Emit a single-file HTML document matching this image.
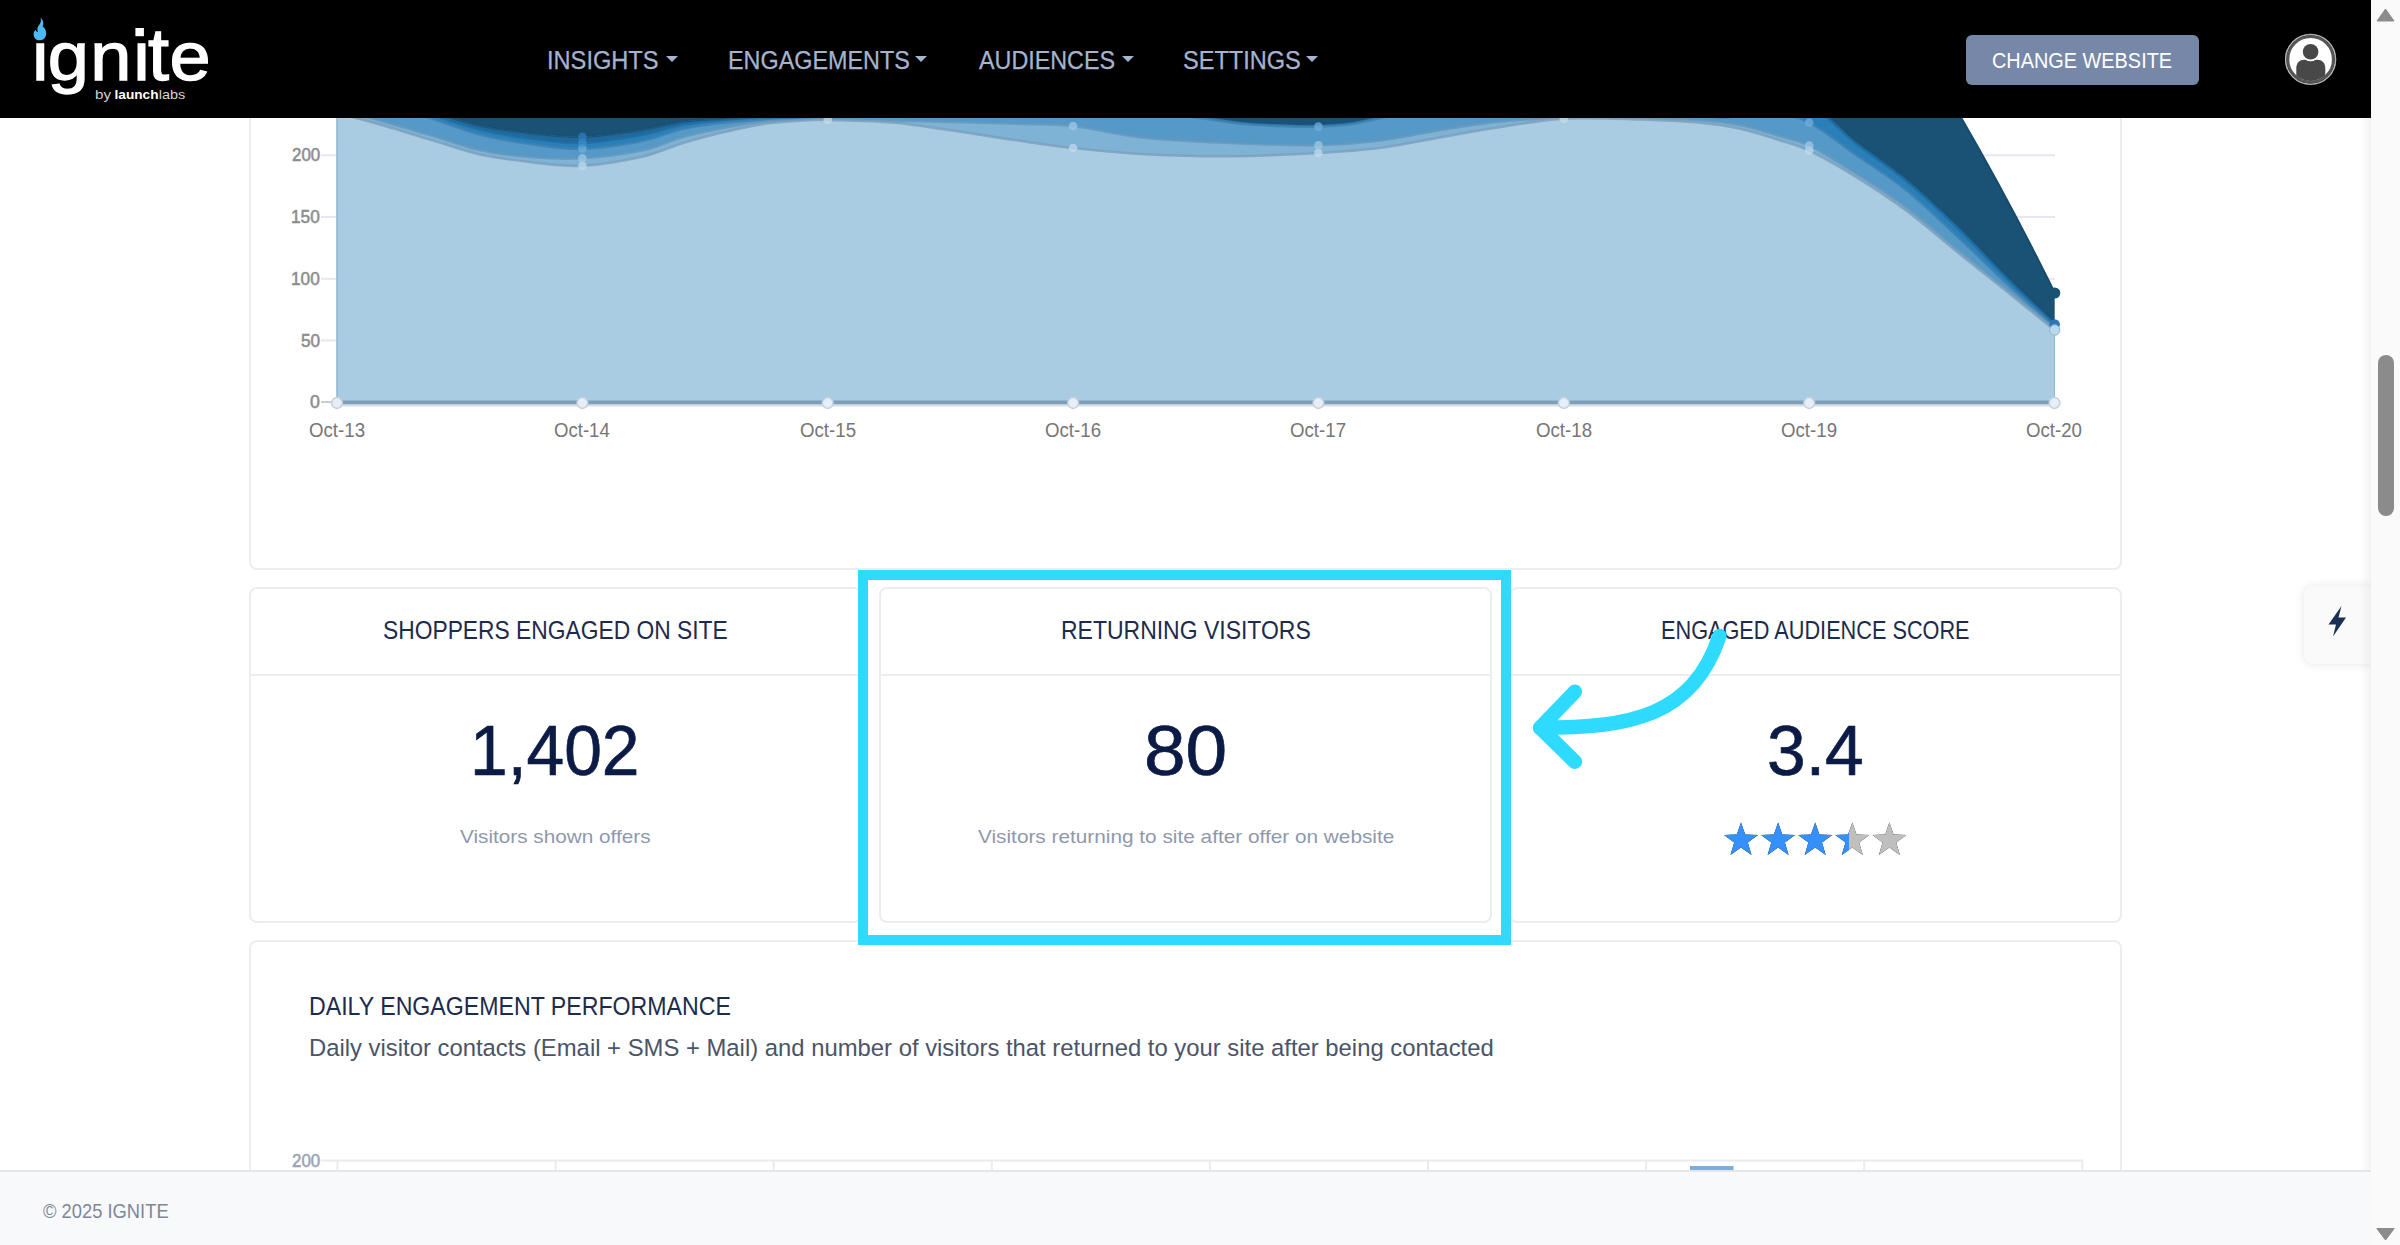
<!DOCTYPE html>
<html lang="en">
<head>
<meta charset="utf-8">
<title>Ignite - Insights</title>
<style>
*{box-sizing:border-box}
html,body{margin:0;padding:0}
body{width:2400px;height:1245px;overflow:hidden;position:relative;background:#fff;font-family:"Liberation Sans",sans-serif}
.page{position:absolute;left:0;top:0;width:2371px;height:1245px;overflow:hidden;background:#fff}
.t{position:absolute;white-space:pre;line-height:1;transform-origin:0 0;display:block;font-family:"Liberation Sans",sans-serif}
.card{position:absolute;background:#fff;border:2px solid #ecedf0;border-radius:8px}
.card .hd{position:absolute;left:0;right:0;top:0;height:87px;border-bottom:2px solid #ecedf0}
header{position:absolute;left:0;top:0;width:2371px;height:117.5px;background:#000}
.caret{position:absolute;top:56px;width:0;height:0;border-left:6px solid transparent;border-right:6px solid transparent;border-top:6.5px solid #a7b4d0}
.btn{position:absolute;left:1966px;top:35px;width:233px;height:50px;border-radius:6px;background:#7787a8}
footer{position:absolute;left:0;top:1170px;width:2371px;height:75px;background:#f8f9fb;border-top:2px solid #e4e6ea}
.tab{position:absolute;left:2304px;top:586px;width:70px;height:78px;background:#fafafa;border-radius:9px 0 0 9px;box-shadow:0 0 10px rgba(0,0,0,.10)}
.hl{position:absolute;left:858px;top:570px;width:653px;height:375px;border:10px solid #2fd9ff;background:#fff}
.sb{position:absolute;left:2371px;top:0;width:29px;height:1245px;background:#fafafa}
.sb .th{position:absolute;left:6.5px;top:355px;width:16px;height:161px;border-radius:8px;background:#8b8b8b}
.shade{position:absolute;left:2359px;top:117.5px;width:12px;height:1128px;background:linear-gradient(to right,rgba(0,0,0,0),rgba(0,0,0,.045))}
svg{position:absolute;left:0;top:0;overflow:visible}
</style>
</head>
<body>
<div class="page">

  <!-- top chart card (scrolled, its upper part sits under the header) -->
  <section class="card" style="left:249px;top:-60px;width:1873px;height:630px"></section>
  <svg width="2371" height="480" viewBox="0 0 2371 480">
<line x1="321" y1="155.2" x2="2055" y2="155.2" stroke="#e6e6f2" stroke-width="2"/>
<line x1="321" y1="217.0" x2="2055" y2="217.0" stroke="#e6e6f2" stroke-width="2"/>
<line x1="321" y1="278.8" x2="2055" y2="278.8" stroke="#e6e6f2" stroke-width="2"/>
<line x1="321" y1="340.6" x2="2055" y2="340.6" stroke="#e6e6f2" stroke-width="2"/>
<line x1="321" y1="402" x2="337" y2="402" stroke="#c9cdd6" stroke-width="2"/>
<path d="M337,0 L1889,0 L1961,117.5 Q2009.2,200.4 2054.7,292.8 L2054.7,323.2 C2046.8,315.8 2024.8,294.9 2008.5,278.6 C1992.2,262.3 1974.2,242.3 1957.0,225.6 C1939.8,208.9 1922.8,192.6 1905.6,178.3 C1888.4,164.0 1866.6,149.7 1854.0,139.6 C1841.4,129.5 1837.5,123.8 1830.0,117.5 C1822.5,111.2 1819.2,106.1 1809.2,101.5 C1799.2,96.9 1788.2,89.8 1770.0,90.0 C1751.8,90.2 1734.4,101.0 1700.0,103.0 C1665.6,105.0 1607.1,101.7 1563.8,102.0 C1520.5,102.3 1470.8,102.5 1440.0,105.0 C1409.2,107.5 1394.0,114.0 1379.0,117.0 C1364.0,120.0 1360.1,121.5 1350.0,122.9 C1339.9,124.3 1328.2,124.9 1318.4,125.2 C1308.7,125.5 1303.2,125.4 1291.5,125.0 C1279.8,124.6 1262.6,124.2 1248.0,122.9 C1233.4,121.6 1220.3,119.3 1204.0,117.0 C1187.7,114.7 1171.8,112.3 1150.0,109.0 C1128.2,105.7 1114.7,97.0 1073.1,97.0 C1031.4,97.0 940.9,105.7 900.0,109.0 C859.1,112.3 849.9,115.5 827.7,117.0 C805.5,118.5 783.8,118.0 766.7,118.3 C749.6,118.6 739.0,118.5 725.0,119.0 C711.0,119.5 696.9,119.6 683.0,121.4 C669.1,123.2 658.5,127.1 641.7,129.7 C624.9,132.2 601.0,136.1 582.4,136.7 C563.7,137.2 547.1,134.9 530.0,133.0 C512.9,131.1 496.7,129.2 480.0,125.5 C463.3,121.8 446.7,115.9 430.0,111.0 C413.3,106.1 395.5,99.8 380.0,96.0 C364.5,92.2 344.2,89.3 337.0,88.0 Z" fill="#1a5276"/>
<path d="M337.0,88.0 C344.2,89.3 364.5,92.2 380.0,96.0 C395.5,99.8 413.3,106.1 430.0,111.0 C446.7,115.9 463.3,121.8 480.0,125.5 C496.7,129.2 512.9,131.1 530.0,133.0 C547.1,134.9 563.7,137.2 582.4,136.7 C601.0,136.1 624.9,132.2 641.7,129.7 C658.5,127.1 669.1,123.2 683.0,121.4 C696.9,119.6 711.0,119.5 725.0,119.0 C739.0,118.5 749.6,118.6 766.7,118.3 C783.8,118.0 805.5,118.5 827.7,117.0 C849.9,115.5 859.1,112.3 900.0,109.0 C940.9,105.7 1031.4,97.0 1073.1,97.0 C1114.7,97.0 1128.2,105.7 1150.0,109.0 C1171.8,112.3 1187.7,114.7 1204.0,117.0 C1220.3,119.3 1233.4,121.6 1248.0,122.9 C1262.6,124.2 1279.8,124.6 1291.5,125.0 C1303.2,125.4 1308.7,125.5 1318.4,125.2 C1328.2,124.9 1339.9,124.3 1350.0,122.9 C1360.1,121.5 1364.0,120.0 1379.0,117.0 C1394.0,114.0 1409.2,107.5 1440.0,105.0 C1470.8,102.5 1520.5,102.3 1563.8,102.0 C1607.1,101.7 1665.6,105.0 1700.0,103.0 C1734.4,101.0 1751.8,90.2 1770.0,90.0 C1788.2,89.8 1799.2,96.9 1809.2,101.5 C1819.2,106.1 1822.5,111.2 1830.0,117.5 C1837.5,123.8 1841.4,129.5 1854.0,139.6 C1866.6,149.7 1888.4,164.0 1905.6,178.3 C1922.8,192.6 1939.8,208.9 1957.0,225.6 C1974.2,242.3 1992.2,262.3 2008.5,278.6 C2024.8,294.9 2046.8,315.8 2054.5,323.2 L2054.5,402.0 L337.0,402.0 Z" fill="#21689b"/>
<path d="M337.0,88.0 C344.2,89.3 364.5,92.2 380.0,96.0 C395.5,99.8 413.3,106.1 430.0,111.0 C446.7,115.9 463.3,121.8 480.0,125.5 C496.7,129.2 512.9,131.1 530.0,133.0 C547.1,134.9 563.7,137.2 582.4,136.7 C601.0,136.1 624.9,132.2 641.7,129.7 C658.5,127.1 669.1,123.2 683.0,121.4 C696.9,119.6 711.0,119.5 725.0,119.0 C739.0,118.5 749.6,118.6 766.7,118.3 C783.8,118.0 805.5,118.5 827.7,117.0 C849.9,115.5 859.1,112.3 900.0,109.0 C940.9,105.7 1031.4,97.0 1073.1,97.0 C1114.7,97.0 1128.2,105.7 1150.0,109.0 C1171.8,112.3 1187.7,114.7 1204.0,117.0 C1220.3,119.3 1233.4,121.6 1248.0,122.9 C1262.6,124.2 1279.8,124.6 1291.5,125.0 C1303.2,125.4 1308.7,125.5 1318.4,125.2 C1328.2,124.9 1339.9,124.3 1350.0,122.9 C1360.1,121.5 1364.0,120.0 1379.0,117.0 C1394.0,114.0 1409.2,107.5 1440.0,105.0 C1470.8,102.5 1520.5,102.3 1563.8,102.0 C1607.1,101.7 1665.6,105.0 1700.0,103.0 C1734.4,101.0 1751.8,90.2 1770.0,90.0 C1788.2,89.8 1799.2,96.9 1809.2,101.5 C1819.2,106.1 1822.5,111.2 1830.0,117.5 C1837.5,123.8 1841.4,129.5 1854.0,139.6 C1866.6,149.7 1888.4,164.0 1905.6,178.3 C1922.8,192.6 1939.8,208.9 1957.0,225.6 C1974.2,242.3 1992.2,262.3 2008.5,278.6 C2024.8,294.9 2046.8,315.8 2054.5,323.2" fill="none" stroke="#174f76" stroke-opacity=".8" stroke-width="2.6"/>
<path d="M337.0,91.0 C344.2,92.3 364.5,95.2 380.0,99.0 C395.5,102.8 413.3,108.9 430.0,114.0 C446.7,119.1 463.3,125.4 480.0,129.5 C496.7,133.6 512.9,136.2 530.0,138.5 C547.1,140.8 563.7,143.6 582.4,143.0 C601.0,142.4 624.9,138.1 641.7,135.0 C658.5,131.9 669.1,127.0 683.0,124.5 C696.9,122.0 711.0,121.2 725.0,120.3 C739.0,119.4 749.6,119.5 766.7,119.0 C783.8,118.5 805.5,119.1 827.7,117.6 C849.9,116.1 859.1,113.3 900.0,110.0 C940.9,106.7 1031.4,98.0 1073.1,98.0 C1114.7,98.0 1128.2,106.7 1150.0,110.0 C1171.8,113.3 1187.7,115.5 1204.0,117.8 C1220.3,120.1 1233.4,122.3 1248.0,123.6 C1262.6,124.9 1279.8,125.3 1291.5,125.7 C1303.2,126.1 1308.7,126.2 1318.4,125.9 C1328.2,125.6 1339.9,124.9 1350.0,123.6 C1360.1,122.2 1364.0,120.7 1379.0,117.8 C1394.0,114.9 1409.2,108.5 1440.0,106.0 C1470.8,103.5 1520.5,103.3 1563.8,103.0 C1607.1,102.7 1665.6,105.8 1700.0,104.0 C1734.4,102.2 1751.8,92.0 1770.0,92.0 C1788.2,92.0 1799.2,99.3 1809.2,104.0 C1819.2,108.7 1822.5,113.7 1830.0,120.0 C1837.5,126.3 1841.4,131.9 1854.0,142.0 C1866.6,152.1 1888.4,166.2 1905.6,180.5 C1922.8,194.8 1939.8,210.9 1957.0,227.5 C1974.2,244.1 1992.2,263.9 2008.5,280.0 C2024.8,296.1 2046.8,316.7 2054.5,324.0 L2054.5,402.0 L337.0,402.0 Z" fill="#2980b9"/>
<path d="M337.0,91.0 C344.2,92.3 364.5,95.2 380.0,99.0 C395.5,102.8 413.3,108.9 430.0,114.0 C446.7,119.1 463.3,125.4 480.0,129.5 C496.7,133.6 512.9,136.2 530.0,138.5 C547.1,140.8 563.7,143.6 582.4,143.0 C601.0,142.4 624.9,138.1 641.7,135.0 C658.5,131.9 669.1,127.0 683.0,124.5 C696.9,122.0 711.0,121.2 725.0,120.3 C739.0,119.4 749.6,119.5 766.7,119.0 C783.8,118.5 805.5,119.1 827.7,117.6 C849.9,116.1 859.1,113.3 900.0,110.0 C940.9,106.7 1031.4,98.0 1073.1,98.0 C1114.7,98.0 1128.2,106.7 1150.0,110.0 C1171.8,113.3 1187.7,115.5 1204.0,117.8 C1220.3,120.1 1233.4,122.3 1248.0,123.6 C1262.6,124.9 1279.8,125.3 1291.5,125.7 C1303.2,126.1 1308.7,126.2 1318.4,125.9 C1328.2,125.6 1339.9,124.9 1350.0,123.6 C1360.1,122.2 1364.0,120.7 1379.0,117.8 C1394.0,114.9 1409.2,108.5 1440.0,106.0 C1470.8,103.5 1520.5,103.3 1563.8,103.0 C1607.1,102.7 1665.6,105.8 1700.0,104.0 C1734.4,102.2 1751.8,92.0 1770.0,92.0 C1788.2,92.0 1799.2,99.3 1809.2,104.0 C1819.2,108.7 1822.5,113.7 1830.0,120.0 C1837.5,126.3 1841.4,131.9 1854.0,142.0 C1866.6,152.1 1888.4,166.2 1905.6,180.5 C1922.8,194.8 1939.8,210.9 1957.0,227.5 C1974.2,244.1 1992.2,263.9 2008.5,280.0 C2024.8,296.1 2046.8,316.7 2054.5,324.0" fill="none" stroke="#1f6da3" stroke-opacity=".8" stroke-width="2.6"/>
<path d="M337.0,96.0 C344.2,97.3 364.5,100.3 380.0,104.0 C395.5,107.7 413.3,112.9 430.0,118.0 C446.7,123.1 463.3,130.2 480.0,134.5 C496.7,138.8 512.9,141.6 530.0,144.0 C547.1,146.4 563.7,149.3 582.4,148.8 C601.0,148.3 624.9,144.3 641.7,141.0 C658.5,137.7 669.1,131.8 683.0,128.7 C696.9,125.6 711.0,123.9 725.0,122.4 C739.0,120.9 749.6,120.2 766.7,119.5 C783.8,118.8 805.5,119.7 827.7,118.4 C849.9,117.2 859.1,115.1 900.0,112.0 C940.9,108.9 1031.4,100.2 1073.1,100.0 C1114.7,99.8 1128.2,107.9 1150.0,111.0 C1171.8,114.1 1187.7,116.3 1204.0,118.5 C1220.3,120.7 1233.4,123.0 1248.0,124.3 C1262.6,125.6 1279.8,126.0 1291.5,126.4 C1303.2,126.8 1308.7,126.9 1318.4,126.6 C1328.2,126.2 1339.9,125.6 1350.0,124.3 C1360.1,123.0 1364.0,121.2 1379.0,118.5 C1394.0,115.8 1409.2,110.1 1440.0,108.0 C1470.8,105.9 1523.8,105.7 1563.8,106.0 C1603.8,106.3 1654.1,108.1 1680.0,110.0 C1705.9,111.9 1704.0,117.0 1719.0,117.5 C1734.0,118.0 1755.0,112.2 1770.0,113.0 C1785.0,113.8 1795.2,115.8 1809.2,122.5 C1823.2,129.2 1837.9,142.2 1854.0,153.4 C1870.1,164.6 1888.4,175.7 1905.6,189.5 C1922.8,203.3 1939.8,220.1 1957.0,236.0 C1974.2,251.9 1992.2,269.9 2008.5,285.0 C2024.8,300.1 2046.8,319.6 2054.5,326.5 L2054.5,402.0 L337.0,402.0 Z" fill="#5499c7"/>
<path d="M337.0,96.0 C344.2,97.3 364.5,100.3 380.0,104.0 C395.5,107.7 413.3,112.9 430.0,118.0 C446.7,123.1 463.3,130.2 480.0,134.5 C496.7,138.8 512.9,141.6 530.0,144.0 C547.1,146.4 563.7,149.3 582.4,148.8 C601.0,148.3 624.9,144.3 641.7,141.0 C658.5,137.7 669.1,131.8 683.0,128.7 C696.9,125.6 711.0,123.9 725.0,122.4 C739.0,120.9 749.6,120.2 766.7,119.5 C783.8,118.8 805.5,119.7 827.7,118.4 C849.9,117.2 859.1,115.1 900.0,112.0 C940.9,108.9 1031.4,100.2 1073.1,100.0 C1114.7,99.8 1128.2,107.9 1150.0,111.0 C1171.8,114.1 1187.7,116.3 1204.0,118.5 C1220.3,120.7 1233.4,123.0 1248.0,124.3 C1262.6,125.6 1279.8,126.0 1291.5,126.4 C1303.2,126.8 1308.7,126.9 1318.4,126.6 C1328.2,126.2 1339.9,125.6 1350.0,124.3 C1360.1,123.0 1364.0,121.2 1379.0,118.5 C1394.0,115.8 1409.2,110.1 1440.0,108.0 C1470.8,105.9 1523.8,105.7 1563.8,106.0 C1603.8,106.3 1654.1,108.1 1680.0,110.0 C1705.9,111.9 1704.0,117.0 1719.0,117.5 C1734.0,118.0 1755.0,112.2 1770.0,113.0 C1785.0,113.8 1795.2,115.8 1809.2,122.5 C1823.2,129.2 1837.9,142.2 1854.0,153.4 C1870.1,164.6 1888.4,175.7 1905.6,189.5 C1922.8,203.3 1939.8,220.1 1957.0,236.0 C1974.2,251.9 1992.2,269.9 2008.5,285.0 C2024.8,300.1 2046.8,319.6 2054.5,326.5" fill="none" stroke="#3f80b0" stroke-opacity=".8" stroke-width="2.6"/>
<path d="M337.0,109.5 C344.2,111.3 364.5,116.2 380.0,120.5 C395.5,124.8 413.3,130.1 430.0,135.0 C446.7,139.9 463.3,146.3 480.0,150.0 C496.7,153.7 512.9,155.6 530.0,157.0 C547.1,158.4 563.7,159.3 582.4,158.2 C601.0,157.1 624.9,154.0 641.7,150.5 C658.5,147.0 669.1,140.8 683.0,137.0 C696.9,133.2 711.0,130.2 725.0,127.6 C739.0,125.0 752.9,122.8 766.7,121.5 C780.5,120.2 797.8,119.9 808.0,119.5 C818.2,119.1 806.9,119.0 827.7,119.3 C848.6,119.6 901.5,120.7 933.0,121.4 C964.5,122.1 993.4,122.9 1016.7,123.7 C1040.0,124.5 1051.5,123.6 1073.1,126.0 C1094.6,128.4 1116.8,135.0 1146.0,137.9 C1175.2,140.8 1219.3,142.5 1248.0,143.7 C1276.7,144.9 1296.6,145.7 1318.4,145.2 C1340.3,144.7 1359.2,143.2 1379.0,140.8 C1398.8,138.4 1417.5,133.8 1437.0,130.6 C1456.5,127.4 1474.9,124.1 1496.0,121.9 C1517.1,119.7 1539.8,118.2 1563.8,117.6 C1587.8,117.0 1617.6,117.8 1640.0,118.2 C1662.4,118.6 1681.3,118.9 1698.0,120.0 C1714.7,121.1 1726.0,122.2 1740.0,125.0 C1754.0,127.8 1770.5,133.4 1782.0,136.8 C1793.5,140.2 1797.2,139.6 1809.2,145.5 C1821.2,151.4 1837.9,161.8 1854.0,172.0 C1870.1,182.2 1888.4,193.8 1905.6,206.6 C1922.8,219.4 1939.8,234.7 1957.0,248.7 C1974.2,262.7 1992.2,277.3 2008.5,290.6 C2024.8,303.9 2046.8,322.2 2054.5,328.5 L2054.5,402.0 L337.0,402.0 Z" fill="#7fb3d5"/>
<path d="M337.0,109.5 C344.2,111.3 364.5,116.2 380.0,120.5 C395.5,124.8 413.3,130.1 430.0,135.0 C446.7,139.9 463.3,146.3 480.0,150.0 C496.7,153.7 512.9,155.6 530.0,157.0 C547.1,158.4 563.7,159.3 582.4,158.2 C601.0,157.1 624.9,154.0 641.7,150.5 C658.5,147.0 669.1,140.8 683.0,137.0 C696.9,133.2 711.0,130.2 725.0,127.6 C739.0,125.0 752.9,122.8 766.7,121.5 C780.5,120.2 797.8,119.9 808.0,119.5 C818.2,119.1 806.9,119.0 827.7,119.3 C848.6,119.6 901.5,120.7 933.0,121.4 C964.5,122.1 993.4,122.9 1016.7,123.7 C1040.0,124.5 1051.5,123.6 1073.1,126.0 C1094.6,128.4 1116.8,135.0 1146.0,137.9 C1175.2,140.8 1219.3,142.5 1248.0,143.7 C1276.7,144.9 1296.6,145.7 1318.4,145.2 C1340.3,144.7 1359.2,143.2 1379.0,140.8 C1398.8,138.4 1417.5,133.8 1437.0,130.6 C1456.5,127.4 1474.9,124.1 1496.0,121.9 C1517.1,119.7 1539.8,118.2 1563.8,117.6 C1587.8,117.0 1617.6,117.8 1640.0,118.2 C1662.4,118.6 1681.3,118.9 1698.0,120.0 C1714.7,121.1 1726.0,122.2 1740.0,125.0 C1754.0,127.8 1770.5,133.4 1782.0,136.8 C1793.5,140.2 1797.2,139.6 1809.2,145.5 C1821.2,151.4 1837.9,161.8 1854.0,172.0 C1870.1,182.2 1888.4,193.8 1905.6,206.6 C1922.8,219.4 1939.8,234.7 1957.0,248.7 C1974.2,262.7 1992.2,277.3 2008.5,290.6 C2024.8,303.9 2046.8,322.2 2054.5,328.5" fill="none" stroke="#6597bd" stroke-opacity=".8" stroke-width="2.6"/>
<path d="M337.0,113.0 C344.2,114.9 364.5,120.1 380.0,124.5 C395.5,128.9 413.3,134.5 430.0,139.5 C446.7,144.5 463.3,150.8 480.0,154.5 C496.7,158.2 512.9,160.1 530.0,162.0 C547.1,163.9 563.7,166.6 582.4,165.7 C601.0,164.8 624.9,160.6 641.7,156.8 C658.5,153.0 669.1,147.2 683.0,143.0 C696.9,138.8 711.0,135.1 725.0,131.8 C739.0,128.6 752.9,125.4 766.7,123.5 C780.5,121.6 797.8,120.8 808.0,120.2 C818.2,119.6 813.8,119.6 827.7,120.0 C841.7,120.4 874.2,121.1 891.7,122.4 C909.2,123.7 919.1,125.7 933.0,127.6 C946.9,129.5 961.0,131.8 975.0,133.9 C989.0,136.0 1000.4,138.0 1016.7,140.3 C1033.0,142.7 1050.9,145.6 1073.1,148.0 C1095.3,150.4 1123.3,153.1 1150.0,154.5 C1176.7,155.9 1204.9,156.4 1233.0,156.2 C1261.1,155.9 1294.1,154.4 1318.4,153.0 C1342.8,151.6 1359.2,150.5 1379.0,148.0 C1398.8,145.5 1417.5,141.3 1437.0,137.9 C1456.5,134.5 1474.9,130.9 1496.0,127.7 C1517.1,124.5 1539.8,120.0 1563.8,118.6 C1587.8,117.2 1617.6,118.8 1640.0,119.5 C1662.4,120.2 1681.3,121.0 1698.0,122.5 C1714.7,124.0 1726.0,125.7 1740.0,128.8 C1754.0,131.9 1770.5,137.4 1782.0,141.0 C1793.5,144.6 1797.2,144.8 1809.2,150.6 C1821.2,156.4 1837.9,165.7 1854.0,175.6 C1870.1,185.5 1888.4,197.3 1905.6,210.0 C1922.8,222.7 1939.8,237.9 1957.0,251.7 C1974.2,265.5 1992.2,279.8 2008.5,292.8 C2024.8,305.9 2046.8,323.8 2054.5,330.0 L2054.5,402.0 L337.0,402.0 Z" fill="#a9cce3"/>
<path d="M337.0,113.0 C344.2,114.9 364.5,120.1 380.0,124.5 C395.5,128.9 413.3,134.5 430.0,139.5 C446.7,144.5 463.3,150.8 480.0,154.5 C496.7,158.2 512.9,160.1 530.0,162.0 C547.1,163.9 563.7,166.6 582.4,165.7 C601.0,164.8 624.9,160.6 641.7,156.8 C658.5,153.0 669.1,147.2 683.0,143.0 C696.9,138.8 711.0,135.1 725.0,131.8 C739.0,128.6 752.9,125.4 766.7,123.5 C780.5,121.6 797.8,120.8 808.0,120.2 C818.2,119.6 813.8,119.6 827.7,120.0 C841.7,120.4 874.2,121.1 891.7,122.4 C909.2,123.7 919.1,125.7 933.0,127.6 C946.9,129.5 961.0,131.8 975.0,133.9 C989.0,136.0 1000.4,138.0 1016.7,140.3 C1033.0,142.7 1050.9,145.6 1073.1,148.0 C1095.3,150.4 1123.3,153.1 1150.0,154.5 C1176.7,155.9 1204.9,156.4 1233.0,156.2 C1261.1,155.9 1294.1,154.4 1318.4,153.0 C1342.8,151.6 1359.2,150.5 1379.0,148.0 C1398.8,145.5 1417.5,141.3 1437.0,137.9 C1456.5,134.5 1474.9,130.9 1496.0,127.7 C1517.1,124.5 1539.8,120.0 1563.8,118.6 C1587.8,117.2 1617.6,118.8 1640.0,119.5 C1662.4,120.2 1681.3,121.0 1698.0,122.5 C1714.7,124.0 1726.0,125.7 1740.0,128.8 C1754.0,131.9 1770.5,137.4 1782.0,141.0 C1793.5,144.6 1797.2,144.8 1809.2,150.6 C1821.2,156.4 1837.9,165.7 1854.0,175.6 C1870.1,185.5 1888.4,197.3 1905.6,210.0 C1922.8,222.7 1939.8,237.9 1957.0,251.7 C1974.2,265.5 1992.2,279.8 2008.5,292.8 C2024.8,305.9 2046.8,323.8 2054.5,330.0" fill="none" stroke="#7a9fbc" stroke-opacity=".8" stroke-width="2.6"/>
<path d="M1961,117.5 Q2009.2,200.4 2054.7,292.8" fill="none" stroke="#174a6b" stroke-width="2"/>
<line x1="337" y1="100" x2="337" y2="402" stroke="#8db5d2" stroke-width="1.5"/>
<line x1="337" y1="402.5" x2="2055" y2="402.5" stroke="#7c9fba" stroke-width="4"/>
<line x1="337" y1="405.5" x2="2055" y2="405.5" stroke="#c3cdd8" stroke-width="2" stroke-opacity=".7"/>
<circle cx="582.4" cy="165.7" r="4.3" fill="#c2dcef" fill-opacity=".72"/>
<circle cx="582.4" cy="158.2" r="4.3" fill="#a3c9e5" fill-opacity=".72"/>
<circle cx="582.4" cy="148.8" r="4.3" fill="#74afdb" fill-opacity=".72"/>
<circle cx="582.4" cy="143.0" r="4.3" fill="#3f8fd0" fill-opacity=".72"/>
<circle cx="582.4" cy="136.7" r="4.3" fill="#2e80c4" fill-opacity=".72"/>
<circle cx="827.7" cy="120.0" r="4.3" fill="#c2dcef" fill-opacity=".72"/>
<circle cx="1073.1" cy="148.0" r="4.3" fill="#c2dcef" fill-opacity=".72"/>
<circle cx="1073.1" cy="126.0" r="4.3" fill="#a3c9e5" fill-opacity=".72"/>
<circle cx="1318.4" cy="153.0" r="4.3" fill="#c2dcef" fill-opacity=".72"/>
<circle cx="1318.4" cy="145.2" r="4.3" fill="#a3c9e5" fill-opacity=".72"/>
<circle cx="1318.4" cy="126.6" r="4.3" fill="#74afdb" fill-opacity=".72"/>
<circle cx="1563.8" cy="118.6" r="4.3" fill="#c2dcef" fill-opacity=".72"/>
<circle cx="1809.2" cy="150.6" r="4.3" fill="#c2dcef" fill-opacity=".72"/>
<circle cx="1809.2" cy="145.5" r="4.3" fill="#a3c9e5" fill-opacity=".72"/>
<circle cx="1809.2" cy="122.5" r="4.3" fill="#74afdb" fill-opacity=".72"/>
<circle cx="2054.7" cy="293" r="5.6" fill="#1a5276"/>
<circle cx="2054.7" cy="324.5" r="5.2" fill="#2a78b5"/>
<circle cx="2054.7" cy="330" r="5.2" fill="#bcd8ec" stroke="#8fb3cf" stroke-width="1"/>
<circle cx="337.0" cy="403" r="5.4" fill="#e6eef7" stroke="#c4d0dc" stroke-width="1.5"/>
<circle cx="582.4" cy="403" r="5.4" fill="#e6eef7" stroke="#c4d0dc" stroke-width="1.5"/>
<circle cx="827.7" cy="403" r="5.4" fill="#e6eef7" stroke="#c4d0dc" stroke-width="1.5"/>
<circle cx="1073.1" cy="403" r="5.4" fill="#e6eef7" stroke="#c4d0dc" stroke-width="1.5"/>
<circle cx="1318.4" cy="403" r="5.4" fill="#e6eef7" stroke="#c4d0dc" stroke-width="1.5"/>
<circle cx="1563.8" cy="403" r="5.4" fill="#e6eef7" stroke="#c4d0dc" stroke-width="1.5"/>
<circle cx="1809.2" cy="403" r="5.4" fill="#e6eef7" stroke="#c4d0dc" stroke-width="1.5"/>
<circle cx="2054.5" cy="403" r="5.4" fill="#e6eef7" stroke="#c4d0dc" stroke-width="1.5"/>
  </svg>

  <!-- KPI cards -->
  <section class="card" style="left:249px;top:587px;width:613px;height:336px"><div class="hd"></div></section>
  <section class="card" style="left:1509px;top:587px;width:613px;height:336px"><div class="hd"></div></section>
  <section class="card" style="left:249px;top:940px;width:1873px;height:400px"></section>
  <div class="hl"></div>
  <section class="card" style="left:879px;top:587px;width:613px;height:336px"><div class="hd"></div></section>

  <!-- rating stars -->
  <svg width="2371" height="1245" viewBox="0 0 2371 1245">
    <defs>
      <path id="star" d="M0.0,-17.9 L4.2,-5.8 L17.0,-5.5 L6.8,2.2 L10.5,14.5 L0.0,7.2 L-10.5,14.5 L-6.8,2.2 L-17.0,-5.5 L-4.2,-5.8 Z"/>
      <clipPath id="cb"><rect x="1700" y="800" width="149" height="80"/></clipPath>
      <clipPath id="cg"><rect x="1849" y="800" width="100" height="80"/></clipPath>
    </defs>
    <g id="stars5">
      <use href="#star" x="1741.0" y="840.4"/><use href="#star" x="1778.1" y="840.4"/><use href="#star" x="1815.2" y="840.4"/><use href="#star" x="1852.3" y="840.4"/><use href="#star" x="1889.4" y="840.4"/>
    </g>
    <use href="#stars5" fill="#bfbfbf" clip-path="url(#cg)"/>
    <use href="#stars5" fill="#3690fa" clip-path="url(#cb)"/>
  </svg>

  <!-- daily engagement card -->
  <svg width="2371" height="1245" viewBox="0 0 2371 1245">
    <g stroke="#e9ebef" stroke-width="2" fill="none">
      <line x1="321" y1="1160.5" x2="2083" y2="1160.5"/>
      <line x1="337.5" y1="1160" x2="337.5" y2="1175"/><line x1="555.6" y1="1160" x2="555.6" y2="1175"/><line x1="773.7" y1="1160" x2="773.7" y2="1175"/><line x1="991.8" y1="1160" x2="991.8" y2="1175"/><line x1="1209.9" y1="1160" x2="1209.9" y2="1175"/><line x1="1428" y1="1160" x2="1428" y2="1175"/><line x1="1646.1" y1="1160" x2="1646.1" y2="1175"/><line x1="1864.2" y1="1160" x2="1864.2" y2="1175"/><line x1="2082.3" y1="1160" x2="2082.3" y2="1175"/>
    </g>
    <rect x="1690" y="1166" width="43.5" height="8" fill="#79afd9"/>
  </svg>

  <!-- floating side tab -->
  <div class="tab"></div>
  <svg width="2371" height="1245" viewBox="0 0 2371 1245">
    <path d="M2341.5,606 L2328.5,624.5 L2336,624.5 L2333,636.5 L2346,617.5 L2338.5,617.5 Z" fill="#1b2f55"/>
  </svg>
  <div class="shade"></div>

  <footer></footer>

  <header>
    <!-- logo -->
    <svg width="260" height="118" viewBox="0 0 260 118">
      <path d="M40.5,17.5 C43.5,20.5 44.2,23.5 42.6,26.3 C44.8,28 46.4,30.8 46.2,33.8 C46,37.6 43.4,40.3 39.8,40.3 C36.2,40.3 33.6,37.8 33.6,34.4 C33.6,32.4 34.4,30.9 35.6,29.8 C36,31.2 36.9,32 38,32 C36.8,29.5 37.4,27.3 38.9,25.3 C40.5,23.2 41.6,20.9 40.5,17.5 Z" fill="#4db9f2"/>
      <g fill="#fff" stroke="#fff" stroke-width="1.3" font-family="'Liberation Sans',sans-serif" font-size="69.3" transform="scale(1.068,1)">
        <text x="28" y="79.9">&#305;</text>
        <text x="44.8" y="79.9">g</text>
        <text x="84.6" y="79.9">n</text>
        <text x="123" y="79.9">&#305;</text>
        <text x="138.5" y="0" textLength="19.7" lengthAdjust="spacingAndGlyphs" transform="translate(0,79.9) scale(1,1.075)">t</text>
        <text x="158.8" y="79.9">e</text>
      </g>
      <rect x="135.4" y="28" width="8.5" height="8.2" fill="#fff"/>
      <g font-family="'Liberation Sans',sans-serif" font-size="12.6">
        <text x="95" y="98.8" fill="#cfcfcf" textLength="16" lengthAdjust="spacingAndGlyphs">by</text>
        <text x="114.5" y="98.8" fill="#fff" font-weight="700" textLength="44" lengthAdjust="spacingAndGlyphs">launch</text>
        <text x="158.8" y="98.8" fill="#d6d6d6" textLength="26.5" lengthAdjust="spacingAndGlyphs">labs</text>
      </g>
    </svg>
    <i class="caret" style="left:665.5px"></i><i class="caret" style="left:915px"></i><i class="caret" style="left:1122px"></i><i class="caret" style="left:1306px"></i>
    <div class="btn"></div>
    <!-- avatar -->
    <svg width="2371" height="118" viewBox="0 0 2371 118">
      <defs><clipPath id="av"><circle cx="2310.6" cy="59.4" r="21.6"/></clipPath></defs>
      <circle cx="2310.6" cy="59.4" r="24.9" fill="none" stroke="#b4b4b4" stroke-width="1.6"/>
      <circle cx="2310.6" cy="59.4" r="22.7" fill="#fff" stroke="#565656" stroke-width="2.8"/>
      <g clip-path="url(#av)">
        <path d="M2296.3,90 L2296.3,68.2 C2296.3,63 2299.6,59.8 2304.2,59.8 L2317.3,59.8 C2321.9,59.8 2325.3,63 2325.3,68.2 L2325.3,90 Z" fill="#484848"/>
        <circle cx="2310.6" cy="51.8" r="9.4" fill="#fff"/>
        <circle cx="2310.6" cy="51.8" r="7.8" fill="#484848"/>
      </g>
    </svg>
  </header>

<span class="t " style="left:547.49px;top:48.00px;font-size:25.3px;font-weight:400;color:#a6b3cf;transform:scaleX(0.9338);-webkit-text-stroke:.25px #a6b3cf;">INSIGHTS</span>
<span class="t " style="left:727.82px;top:48.00px;font-size:25.3px;font-weight:400;color:#a6b3cf;transform:scaleX(0.9241);-webkit-text-stroke:.25px #a6b3cf;">ENGAGEMENTS</span>
<span class="t " style="left:979.32px;top:48.00px;font-size:25.3px;font-weight:400;color:#a6b3cf;transform:scaleX(0.9216);-webkit-text-stroke:.25px #a6b3cf;">AUDIENCES</span>
<span class="t " style="left:1183.39px;top:48.00px;font-size:25.3px;font-weight:400;color:#a6b3cf;transform:scaleX(0.9312);-webkit-text-stroke:.25px #a6b3cf;">SETTINGS</span>
<span class="t " style="left:1992.35px;top:50.00px;font-size:22.2px;font-weight:400;color:#ffffff;transform:scaleX(0.8961);">CHANGE WEBSITE</span>
<span class="t " style="left:291.69px;top:146.00px;font-size:18.5px;font-weight:400;color:#8d8d8d;transform:scaleX(0.9147);-webkit-text-stroke:.55px #8d8d8d;">200</span>
<span class="t " style="left:291.11px;top:208.00px;font-size:18.5px;font-weight:400;color:#8d8d8d;transform:scaleX(0.9338);-webkit-text-stroke:.55px #8d8d8d;">150</span>
<span class="t " style="left:291.11px;top:270.00px;font-size:18.5px;font-weight:400;color:#8d8d8d;transform:scaleX(0.9338);-webkit-text-stroke:.55px #8d8d8d;">100</span>
<span class="t " style="left:300.63px;top:332.00px;font-size:18.5px;font-weight:400;color:#8d8d8d;transform:scaleX(0.9307);-webkit-text-stroke:.55px #8d8d8d;">50</span>
<span class="t " style="left:309.77px;top:393.00px;font-size:18.5px;font-weight:400;color:#8d8d8d;transform:scaleX(0.9556);-webkit-text-stroke:.55px #8d8d8d;">0</span>
<span class="t " style="left:308.94px;top:420.00px;font-size:20px;font-weight:400;color:#767676;transform:scaleX(0.9341);">Oct-13</span>
<span class="t " style="left:554.31px;top:420.00px;font-size:20px;font-weight:400;color:#767676;transform:scaleX(0.9291);">Oct-14</span>
<span class="t " style="left:799.66px;top:420.00px;font-size:20px;font-weight:400;color:#767676;transform:scaleX(0.9335);">Oct-15</span>
<span class="t " style="left:1045.02px;top:420.00px;font-size:20px;font-weight:400;color:#767676;transform:scaleX(0.9337);">Oct-16</span>
<span class="t " style="left:1290.38px;top:420.00px;font-size:20px;font-weight:400;color:#767676;transform:scaleX(0.9335);">Oct-17</span>
<span class="t " style="left:1535.74px;top:420.00px;font-size:20px;font-weight:400;color:#767676;transform:scaleX(0.9341);">Oct-18</span>
<span class="t " style="left:1781.10px;top:420.00px;font-size:20px;font-weight:400;color:#767676;transform:scaleX(0.9338);">Oct-19</span>
<span class="t " style="left:2026.47px;top:420.00px;font-size:20px;font-weight:400;color:#767676;transform:scaleX(0.9325);">Oct-20</span>
<span class="t " style="left:383.07px;top:618.00px;font-size:25.2px;font-weight:400;color:#1d2b4c;transform:scaleX(0.9056);">SHOPPERS ENGAGED ON SITE</span>
<span class="t " style="left:1060.77px;top:618.00px;font-size:25.2px;font-weight:400;color:#1d2b4c;transform:scaleX(0.9121);">RETURNING VISITORS</span>
<span class="t " style="left:1661.37px;top:618.00px;font-size:25.2px;font-weight:400;color:#1d2b4c;transform:scaleX(0.8612);">ENGAGED AUDIENCE SCORE</span>
<span class="t " style="left:469.58px;top:715.00px;font-size:71px;font-weight:400;color:#0c1b45;transform:scaleX(0.9541);-webkit-text-stroke:.7px #0c1b45;">1,402</span>
<span class="t " style="left:1144.02px;top:715.00px;font-size:71px;font-weight:400;color:#0c1b45;transform:scaleX(1.0536);-webkit-text-stroke:.7px #0c1b45;">80</span>
<span class="t " style="left:1767.06px;top:715.00px;font-size:71px;font-weight:400;color:#0c1b45;transform:scaleX(0.9797);-webkit-text-stroke:.7px #0c1b45;">3.4</span>
<span class="t " style="left:460.24px;top:827.00px;font-size:19px;font-weight:400;color:#8f98ac;transform:scaleX(1.0912);">Visitors shown offers</span>
<span class="t " style="left:977.64px;top:827.00px;font-size:19px;font-weight:400;color:#8f98ac;transform:scaleX(1.0939);">Visitors returning to site after offer on website</span>
<span class="t " style="left:309.46px;top:994.00px;font-size:25.2px;font-weight:400;color:#1d2b4c;transform:scaleX(0.9191);">DAILY ENGAGEMENT PERFORMANCE</span>
<span class="t " style="left:309.34px;top:1036.00px;font-size:24.3px;font-weight:400;color:#4b5468;transform:scaleX(0.9813);">Daily visitor contacts (Email + SMS + Mail) and number of visitors that returned to your site after being contacted</span>
<span class="t " style="left:291.59px;top:1152.00px;font-size:18.5px;font-weight:400;color:#9ba4b6;transform:scaleX(0.9147);-webkit-text-stroke:.55px #9ba4b6;">200</span>
<span class="t " style="left:42.57px;top:1200.00px;font-size:21px;font-weight:400;color:#7d8798;transform:scaleX(0.8732);">© 2025 IGNITE</span>
  <!-- annotation arrow -->
  <svg width="2371" height="1245" viewBox="0 0 2371 1245">
    <g fill="none" stroke="#2fdaff" stroke-width="14.5" stroke-linecap="round" stroke-linejoin="round">
      <path d="M1719.5,636 C1692.7,716.7 1630.2,727.8 1540.2,727.8"/>
      <path d="M1574.9,691.7 L1540.2,727.8 L1574.9,761.8"/>
    </g>
  </svg>
</div>

<!-- browser scrollbar -->
<div class="sb">
  <div class="th"></div>
  <svg width="29" height="1245" viewBox="0 0 29 1245"><path d="M14.5,9 L23,21 L6,21 Z M5.8,1228.5 L23.2,1228.5 L14.5,1240 Z" fill="#8b8b8b" stroke="#8b8b8b" stroke-width="1" stroke-linejoin="round"/></svg>
</div>
</body>
</html>
